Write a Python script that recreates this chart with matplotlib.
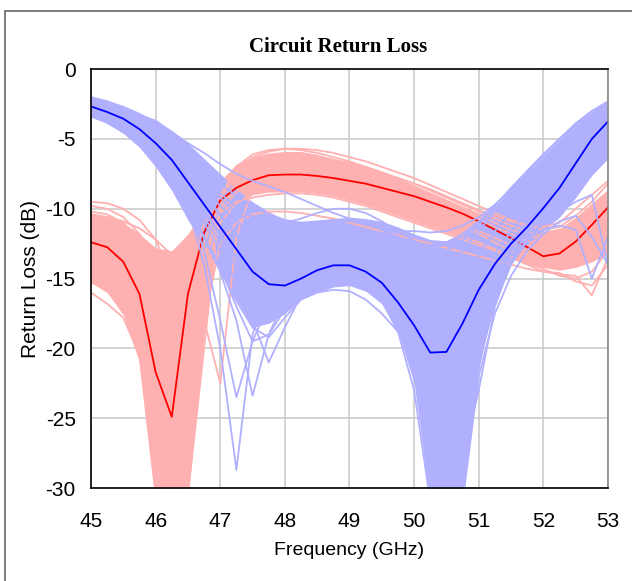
import matplotlib
matplotlib.use('Agg')
import matplotlib.pyplot as plt
from matplotlib.patches import Rectangle

plt.rcParams['axes.unicode_minus'] = False

# frequency grid (GHz)
freq = [45.0, 45.25, 45.5, 45.75, 46.0, 46.25, 46.5, 46.75, 47.0, 47.25, 47.5,
        47.75, 48.0, 48.25, 48.5, 48.75, 49.0, 49.25, 49.5, 49.75, 50.0, 50.25,
        50.5, 50.75, 51.0, 51.25, 51.5, 51.75, 52.0, 52.25, 52.5, 52.75, 53.0]

# nominal responses (dB)
red_nominal = [-12.4, -12.75, -13.8, -16.1, -21.7, -24.9, -16.1, -11.7, -9.4, -8.5, -7.95,
               -7.6, -7.55, -7.55, -7.65, -7.8, -8.0, -8.2, -8.5, -8.8, -9.1, -9.5,
               -9.9, -10.35, -10.9, -11.5, -12.1, -12.75, -13.4, -13.2, -12.35, -11.15, -9.9]
blue_nominal = [-2.67, -3.07, -3.55, -4.3, -5.3, -6.5, -8.1, -9.7, -11.3, -12.9, -14.5,
                -15.4, -15.5, -15.0, -14.4, -14.05, -14.05, -14.5, -15.3, -16.7, -18.35, -20.3,
                -20.25, -18.2, -15.8, -13.95, -12.5, -11.3, -9.95, -8.5, -6.75, -5.0, -3.75]

# dense part of the monte carlo spread (upper / lower edge)
red_core_upper = [-10.3, -10.5, -11.0, -11.8, -12.8, -13.0, -11.8, -10.0, -8.0, -6.8, -6.3,
                  -6.0, -5.9, -5.9, -6.1, -6.4, -6.7, -7.0, -7.4, -7.8, -8.3, -8.8,
                  -9.3, -9.8, -10.3, -10.7, -11.1, -11.4, -11.6, -11.4, -10.6, -9.6, -8.6]
red_core_lower = [-15.3, -16.0, -17.6, -21.0, -30.5, -30.5, -30.5, -19.0, -10.8, -9.6, -9.0,
                  -8.8, -8.8, -8.8, -8.9, -9.1, -9.4, -9.7, -10.1, -10.5, -10.9, -11.3,
                  -11.7, -12.1, -12.5, -12.9, -13.4, -13.9, -14.2, -14.4, -14.2, -13.8, -13.2]
blue_core_upper = [-2.0, -2.3, -2.7, -3.2, -3.6, -4.4, -5.3, -6.4, -7.5, -8.6, -9.5,
                   -10.2, -10.8, -10.9, -10.8, -10.7, -10.6, -10.7, -10.9, -11.3, -11.8, -12.2,
                   -12.3, -11.9, -11.0, -9.9, -8.6, -7.4, -6.3, -5.2, -4.1, -3.2, -2.5]
blue_core_lower = [-3.4, -3.9, -4.6, -5.6, -7.0, -8.7, -10.8, -12.7, -14.5, -16.5, -18.5,
                   -18.2, -17.5, -16.5, -16.0, -15.6, -15.5, -15.9, -16.8, -18.8, -22.5, -31.0,
                   -31.0, -31.0, -21.5, -16.5, -13.8, -12.6, -11.6, -10.6, -9.2, -7.6, -6.4]

# individual monte carlo runs
red_runs = [
    [-9.5, -9.6, -10.0, -10.8, -12.2, -15.0, -25.0, -14.0, -9.0, -7.2, -6.3, -5.9, -5.7, -5.7, -5.8, -6.0, -6.3,
     -6.6, -7.0, -7.4, -7.8, -8.3, -8.8, -9.3, -9.8, -10.3, -10.8, -11.2, -11.5, -11.3, -10.5, -9.5, -8.2],
    [-10.2, -10.4, -11.0, -12.2, -14.5, -19.0, -30.5, -16.0, -10.0, -8.0, -7.0, -6.5, -6.3, -6.3, -6.4, -6.6, -6.9,
     -7.2, -7.6, -8.0, -8.5, -9.0, -9.5, -10.0, -10.5, -11.0, -11.5, -11.9, -12.2, -12.0, -11.3, -10.4, -9.3],
    [-11.0, -11.3, -12.2, -14.0, -18.5, -30.5, -22.0, -12.5, -9.2, -7.8, -7.1, -6.8, -6.7, -6.7, -6.8, -7.0, -7.3,
     -7.6, -8.0, -8.4, -8.8, -9.3, -9.8, -10.3, -10.8, -11.3, -11.8, -12.3, -12.7, -12.5, -11.8, -10.8, -9.6],
    [-12.0, -12.5, -13.8, -17.0, -30.5, -28.0, -15.0, -11.0, -9.6, -8.8, -8.3, -8.1, -8.0, -8.0, -8.1, -8.3, -8.5,
     -8.8, -9.1, -9.5, -9.9, -10.3, -10.8, -11.3, -11.8, -12.4, -13.0, -13.5, -13.9, -13.8, -13.2, -12.5, -11.6],
    [-16.0, -16.8, -17.8, -20.5, -30.5, -30.5, -20.0, -13.5, -10.3, -9.5, -9.2, -9.0, -8.9, -8.9, -9.0, -9.2, -9.5,
     -9.8, -10.2, -10.6, -11.0, -11.4, -11.8, -12.2, -12.6, -13.0, -13.5, -14.0, -14.5, -14.7, -14.8, -16.2, -13.5],
    [-10.5, -10.6, -10.9, -11.4, -12.2, -13.3, -15.0, -18.0, -22.5, -12.0, -8.5, -7.2, -6.6, -6.4, -6.4, -6.5, -6.7,
     -7.0, -7.4, -7.8, -8.2, -8.7, -9.2, -9.7, -10.2, -10.7, -11.2, -11.6, -12.0, -11.9, -11.4, -10.6, -9.6],
    [-13.0, -13.5, -14.8, -17.5, -24.0, -30.5, -30.5, -18.0, -12.5, -11.0, -10.4, -10.2, -10.2, -10.3, -10.5, -10.7,
     -11.0, -11.3, -11.6, -11.9, -12.2, -12.5, -12.8, -13.1, -13.4, -13.7, -14.0, -14.3, -14.5, -14.6, -15.2, -15.5, -14.0],
    [-9.8, -10.0, -10.6, -11.8, -14.0, -18.5, -30.5, -20.0, -9.5, -7.0, -6.1, -5.8, -5.7, -5.8, -6.0, -6.3, -6.6,
     -7.0, -7.4, -7.8, -8.2, -8.6, -9.1, -9.6, -10.1, -10.5, -10.9, -11.2, -11.3, -11.0, -10.0, -9.0, -8.0],
    [-12.5, -13.0, -14.5, -17.5, -23.0, -30.5, -26.0, -14.0, -10.2, -8.8, -8.1, -7.7, -7.5, -7.5, -7.6, -7.8, -8.0,
     -8.3, -8.7, -9.1, -9.6, -10.1, -10.6, -11.1, -11.6, -12.1, -12.6, -13.1, -13.5, -13.4, -12.8, -12.0, -11.2],
    [-14.5, -15.0, -16.5, -19.5, -28.0, -30.5, -30.5, -15.0, -11.0, -9.6, -8.9, -8.6, -8.5, -8.5, -8.6, -8.8, -9.1,
     -9.4, -9.8, -10.2, -10.6, -11.0, -11.5, -12.0, -12.4, -12.9, -13.4, -13.9, -14.3, -14.8, -15.0, -14.5, -13.0],
]

blue_runs = [
    [-2.0, -2.3, -2.7, -3.2, -3.8, -4.5, -5.3, -6.0, -6.8, -7.5, -8.0, -8.4, -8.8, -9.3, -9.8, -10.3, -10.7,
     -11.1, -11.4, -11.6, -11.6, -11.7, -11.6, -11.2, -10.6, -9.7, -8.6, -7.4, -6.2, -5.0, -3.9, -3.0, -2.5],
    [-2.1, -2.4, -2.9, -3.5, -4.2, -5.1, -6.1, -7.2, -8.2, -9.1, -9.8, -10.4, -10.8, -11.0, -11.0, -10.9, -10.9,
     -11.1, -11.5, -12.0, -12.4, -12.6, -12.4, -11.8, -10.9, -9.8, -8.6, -7.3, -6.1, -5.0, -4.0, -3.2, -2.6],
    [-2.3, -2.7, -3.2, -3.9, -4.8, -5.9, -7.2, -8.5, -9.8, -10.9, -11.7, -12.1, -12.2, -12.0, -11.6, -11.3, -11.3,
     -11.6, -12.2, -13.0, -13.8, -14.2, -14.0, -13.0, -11.6, -10.2, -8.9, -7.7, -6.5, -5.4, -4.4, -3.5, -2.8],
    [-2.5, -2.9, -3.4, -4.1, -5.0, -6.1, -7.5, -9.0, -10.5, -11.9, -13.0, -13.6, -13.6, -13.2, -12.8, -12.5, -12.5,
     -12.9, -13.7, -15.0, -16.5, -17.5, -17.0, -15.3, -13.3, -11.6, -10.2, -8.9, -7.6, -6.3, -5.0, -3.9, -3.0],
    [-2.8, -3.2, -3.8, -4.6, -5.7, -7.1, -8.8, -10.6, -12.4, -14.1, -15.5, -16.2, -16.0, -15.3, -14.6, -14.2, -14.2,
     -14.7, -15.8, -17.6, -20.5, -26.0, -30.5, -24.0, -18.5, -15.0, -12.8, -11.3, -10.0, -8.6, -7.2, -5.8, -4.6],
    [-3.4, -3.8, -4.5, -5.4, -6.6, -8.2, -10.0, -12.0, -14.2, -17.0, -19.5, -19.0, -17.2, -15.9, -15.2, -14.8, -14.8,
     -15.3, -16.6, -18.8, -23.0, -31.0, -31.0, -27.0, -21.0, -16.5, -13.8, -12.2, -10.9, -9.6, -8.3, -7.0, -5.8],
    [-3.0, -3.4, -4.1, -5.0, -6.2, -7.8, -9.6, -13.0, -18.0, -23.5, -19.5, -16.8, -15.8, -15.2, -14.7, -14.4, -14.5,
     -15.0, -16.2, -18.2, -21.5, -28.0, -31.0, -25.0, -19.5, -15.5, -13.0, -11.5, -10.2, -8.8, -7.4, -6.0, -4.8],
    [-3.2, -3.6, -4.3, -5.2, -6.4, -8.0, -9.8, -14.0, -20.0, -28.7, -19.0, -15.5, -14.2, -13.6, -13.3, -13.2, -13.4,
     -14.0, -15.2, -17.0, -19.8, -25.0, -30.5, -27.0, -21.0, -16.8, -14.0, -12.3, -11.0, -9.6, -8.2, -6.8, -5.5],
    [-3.1, -3.5, -4.2, -5.1, -6.3, -7.9, -9.8, -12.0, -14.5, -18.0, -23.4, -19.0, -16.5, -15.2, -14.5, -14.2, -14.3,
     -14.9, -16.0, -17.8, -20.5, -25.5, -29.0, -24.0, -19.0, -15.6, -13.3, -11.8, -10.5, -9.1, -7.7, -6.3, -5.0],
    [-2.9, -3.3, -4.0, -4.8, -6.0, -7.4, -9.1, -11.0, -13.0, -15.3, -18.0, -21.0, -18.5, -16.2, -15.0, -14.5, -14.5,
     -15.0, -16.0, -17.6, -19.8, -22.5, -22.0, -18.5, -15.5, -13.2, -11.6, -10.3, -9.2, -8.0, -6.8, -5.5, -4.4],
    [-2.6, -3.0, -3.5, -4.3, -5.3, -6.6, -8.2, -10.0, -11.8, -13.5, -14.9, -15.6, -15.5, -14.8, -14.0, -13.6, -13.5,
     -13.8, -14.6, -15.9, -17.8, -21.0, -27.0, -31.0, -22.0, -17.5, -14.8, -13.0, -11.8, -10.9, -10.5, -12.0, -14.0],
    [-2.7, -3.1, -3.7, -4.5, -5.5, -6.8, -8.4, -10.2, -12.0, -13.6, -14.8, -15.3, -15.0, -14.4, -13.8, -13.5, -13.6,
     -14.0, -14.9, -16.3, -18.4, -22.0, -26.0, -22.5, -17.5, -14.6, -12.5, -12.0, -11.5, -11.2, -11.5, -15.0, -12.0],
    [-2.4, -2.8, -3.3, -4.0, -4.9, -6.0, -7.4, -8.9, -10.4, -11.8, -12.9, -13.5, -13.6, -13.4, -13.1, -12.9, -12.9,
     -13.2, -13.9, -14.9, -16.3, -18.5, -22.0, -28.0, -23.0, -17.0, -13.8, -11.6, -10.8, -10.2, -9.5, -9.0, -14.0],
    [-3.3, -3.7, -4.4, -5.3, -6.5, -8.1, -10.0, -12.1, -14.4, -16.6, -18.5, -19.2, -17.8, -16.5, -16.0, -15.8, -15.9,
     -16.5, -17.5, -18.8, -20.5, -22.5, -21.5, -18.8, -16.0, -13.8, -12.2, -11.0, -9.8, -8.6, -7.3, -6.0, -4.9],
    [-2.2, -2.5, -3.0, -3.6, -4.4, -5.4, -6.6, -7.9, -9.2, -10.3, -11.0, -11.4, -11.5, -11.3, -11.0, -10.8, -10.8,
     -11.0, -11.5, -12.1, -12.8, -13.2, -13.0, -12.3, -11.2, -10.0, -8.8, -7.6, -6.4, -5.2, -4.1, -3.2, -2.4],
    [-2.1, -2.4, -2.9, -3.5, -4.3, -5.3, -6.5, -7.7, -8.9, -9.9, -10.6, -11.0, -11.0, -10.7, -10.3, -10.0, -10.0,
     -10.3, -10.9, -11.6, -12.3, -12.7, -12.6, -12.0, -11.0, -9.8, -8.5, -7.3, -6.1, -5.0, -3.9, -3.0, -2.3],
]

red_light = '#ffb0b0'
blue_light = '#b0b0ff'

fig = plt.figure(figsize=(6.32, 5.81), dpi=100)
ax = fig.add_axes([0.144, 0.160, 0.818, 0.721])

# red family first, blue drawn over it
ax.fill_between(freq, red_core_lower, red_core_upper, color=red_light, lw=0)
for run in red_runs:
    ax.plot(freq, run, color=red_light, lw=1.3)

ax.fill_between(freq, blue_core_lower, blue_core_upper, color=blue_light, lw=0)
ax.plot(freq, red_nominal, color='#ff0000', lw=1.3)
for run in blue_runs:
    ax.plot(freq, run, color=blue_light, lw=1.3)
ax.plot(freq, blue_nominal, color='#0000ff', lw=1.3)

ax.set_xlim(45, 53)
ax.set_ylim(-30, 0)
ax.set_xticks(range(45, 54))
ax.set_yticks(range(-30, 1, 5))
ax.grid(True, color='#c8c8c8', lw=1.1)
ax.set_axisbelow(True)

sans = ['Liberation Sans', 'DejaVu Sans']
ax.tick_params(length=0, labelsize=15)
ax.tick_params(axis='x', pad=17)
ax.tick_params(axis='y', pad=11)
for lab in ax.get_xticklabels() + ax.get_yticklabels():
    lab.set_family(sans)

for side in ['left', 'top', 'bottom']:
    ax.spines[side].set_color('black')
    ax.spines[side].set_linewidth(1.2)
ax.spines['right'].set_color('#888888')
ax.spines['right'].set_linewidth(1.2)

ax.set_xlabel('Frequency (GHz)', family=sans, fontsize=14, labelpad=8)
ax.set_ylabel('Return Loss (dB)', family=sans, fontsize=15, labelpad=4)
fig.text(0.535, 0.919, 'Circuit Return Loss', family=['Liberation Serif', 'DejaVu Serif'],
         fontsize=15, fontweight='bold', ha='center', va='center')

# outer frame, cut off at right and bottom
fig.add_artist(Rectangle((5 / 632, -0.1), 1.2, 1.0 - 10.5 / 581 + 0.1, transform=fig.transFigure,
                         fill=False, ec='#666666', lw=1.2, clip_on=False))

fig.savefig('out.png', dpi=100)
